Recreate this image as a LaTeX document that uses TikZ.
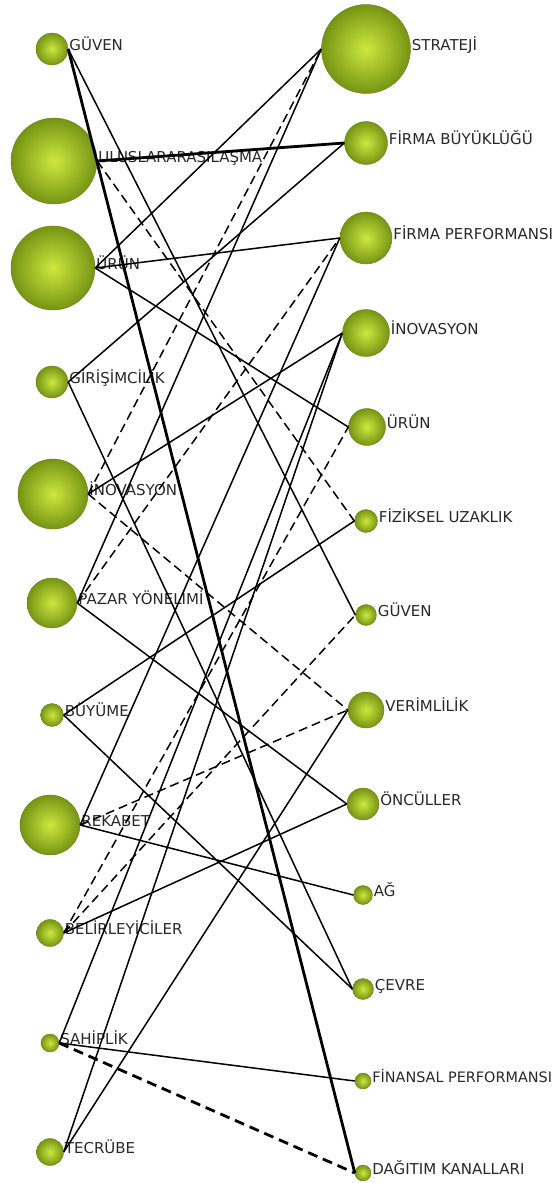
\documentclass[tikz,border=0pt]{standalone}
\usepackage{fontspec}
\setmainfont{DejaVu Sans}
\usetikzlibrary{positioning}
\definecolor{ballin}{RGB}{206,232,62}
\definecolor{ballout}{RGB}{118,148,20}
\definecolor{ballrim}{RGB}{105,130,22}
\definecolor{lblgray}{RGB}{40,40,40}

\begin{document}
\begin{tikzpicture}[x=1pt, y=1pt,
    conc/.style={circle, shading=radial, inner color=ballin, outer color=ballout, draw=ballrim, line width=0.4pt, inner sep=0pt},
    lbl/.style={font=\fontsize{15}{17}\selectfont, text=lblgray, inner sep=1pt, text height=10.5pt, text depth=0pt, yshift=4pt},
    thk/.style={line width=2.8pt},
    dsh/.style={dash pattern=on 9pt off 5pt},
    every edge/.style={draw, line width=1.5pt}
]
\useasboundingbox (0,0) rectangle (557,-1183);

% Left column concepts
\node[conc, minimum size=32pt] (L_1) at (52,-49) {};
\node[conc, minimum size=86pt] (L_2) at (54,-161) {};
\node[conc, minimum size=84pt] (L_3) at (53,-268) {};
\node[conc, minimum size=32pt] (L_4) at (52,-382) {};
\node[conc, minimum size=70pt] (L_5) at (53,-494) {};
\node[conc, minimum size=50pt] (L_6) at (52,-603) {};
\node[conc, minimum size=23pt] (L_7) at (52,-715) {};
\node[conc, minimum size=60pt] (L_8) at (50,-825) {};
\node[conc, minimum size=27pt] (L_9) at (50,-933) {};
\node[conc, minimum size=18pt] (L_10) at (50,-1043) {};
\node[conc, minimum size=27pt] (L_11) at (50,-1152) {};

% Right column concepts
\node[conc, minimum size=89pt] (R_1) at (366,-49) {};
\node[conc, minimum size=43pt] (R_2) at (366,-143) {};
\node[conc, minimum size=52pt] (R_3) at (366,-238) {};
\node[conc, minimum size=47pt] (R_4) at (366,-333) {};
\node[conc, minimum size=37pt] (R_5) at (367,-427) {};
\node[conc, minimum size=23pt] (R_6) at (366,-521) {};
\node[conc, minimum size=21pt] (R_7) at (366,-615) {};
\node[conc, minimum size=36pt] (R_8) at (366,-710) {};
\node[conc, minimum size=32pt] (R_9) at (363,-804) {};
\node[conc, minimum size=19pt] (R_10) at (363,-895) {};
\node[conc, minimum size=21pt] (R_11) at (363,-989) {};
\node[conc, minimum size=16pt] (R_12) at (363,-1081) {};
\node[conc, minimum size=16pt] (R_13) at (363,-1173) {};

% Labels left
\node[lbl, right=0pt of L_1] (LT_1) {GÜVEN};
\node[lbl, right=0pt of L_2] (LT_2) {ULUSLARARASILAŞMA};
\node[lbl, right=0pt of L_3] (LT_3) {ÜRÜN};
\node[lbl, right=0pt of L_4] (LT_4) {GİRİŞİMCİLİK};
\node[lbl, right=0pt of L_5] (LT_5) {İNOVASYON};
\node[lbl, right=0pt of L_6] (LT_6) {PAZAR YÖNELİMİ};
\node[lbl, right=0pt of L_7] (LT_7) {BÜYÜME};
\node[lbl, right=0pt of L_8] (LT_8) {REKABET};
\node[lbl, right=0pt of L_9] (LT_9) {BELİRLEYİCİLER};
\node[lbl, right=0pt of L_10] (LT_10) {SAHİPLİK};
\node[lbl, right=0pt of L_11] (LT_11) {TECRÜBE};

% Labels right
\node[lbl, right=0pt of R_1] (RT_1) {STRATEJİ};
\node[lbl, right=0pt of R_2] (RT_2) {FİRMA BÜYÜKLÜĞÜ};
\node[lbl, right=0pt of R_3] (RT_3) {FİRMA PERFORMANSI};
\node[lbl, right=0pt of R_4] (RT_4) {İNOVASYON};
\node[lbl, right=0pt of R_5] (RT_5) {ÜRÜN};
\node[lbl, right=0pt of R_6] (RT_6) {FİZİKSEL UZAKLIK};
\node[lbl, right=0pt of R_7] (RT_7) {GÜVEN};
\node[lbl, right=0pt of R_8] (RT_8) {VERİMLİLİK};
\node[lbl, right=0pt of R_9] (RT_9) {ÖNCÜLLER};
\node[lbl, right=0pt of R_10] (RT_10) {AĞ};
\node[lbl, right=0pt of R_11] (RT_11) {ÇEVRE};
\node[lbl, right=0pt of R_12, font=\fontsize{14.4}{17}\selectfont] (RT_12) {FİNANSAL PERFORMANSI};
\node[lbl, right=0pt of R_13] (RT_13) {DAĞITIM KANALLARI};

% Edges from Güven
\path (L_1.east) edge[thk] (R_13.west);
\path (L_1.east) edge (R_7.west);

% Edges from Uluslararasılaşma
\path (L_2.east) edge[thk] (R_2.west);
\path (L_2.east) edge[dsh] (R_6.west);

% Edges from Ürün
\path (L_3.east) edge (R_1.west);
\path (L_3.east) edge (R_3.west);
\path (L_3.east) edge (R_5.west);

% Edges from Girişimcilik
\path (L_4.east) edge (R_2.west);
\path (L_4.east) edge (R_11.west);

% Edges from İnovasyon
\path (L_5.east) edge[dsh] (R_1.west);
\path (L_5.east) edge (R_4.west);
\path (L_5.east) edge[dsh] (R_8.west);

% Edges from Pazar yönelimi
\path (L_6.east) edge (R_1.west);
\path (L_6.east) edge[dsh] (R_3.west);
\path (L_6.east) edge (R_9.west);

% Edges from Büyüme
\path (L_7.east) edge (R_6.west);
\path (L_7.east) edge (R_11.west);

% Edges from Rekabet
\path (L_8.east) edge (R_3.west);
\path (L_8.east) edge[dsh] (R_8.west);
\path (L_8.east) edge (R_10.west);

% Edges from Belirleyiciler
\path (L_9.east) edge[dsh] (R_5.west);
\path (L_9.east) edge[dsh] (R_7.west);
\path (L_9.east) edge (R_9.west);

% Edges from Sahiplik
\path (L_10.east) edge (R_4.west);
\path (L_10.east) edge (R_12.west);
\path (L_10.east) edge[thk, dash pattern=on 10pt off 6pt] (R_13.west);

% Edges from Tecrübe
\path (L_11.east) edge (R_4.west);
\path (L_11.east) edge (R_8.west);

\end{tikzpicture}
\end{document}
